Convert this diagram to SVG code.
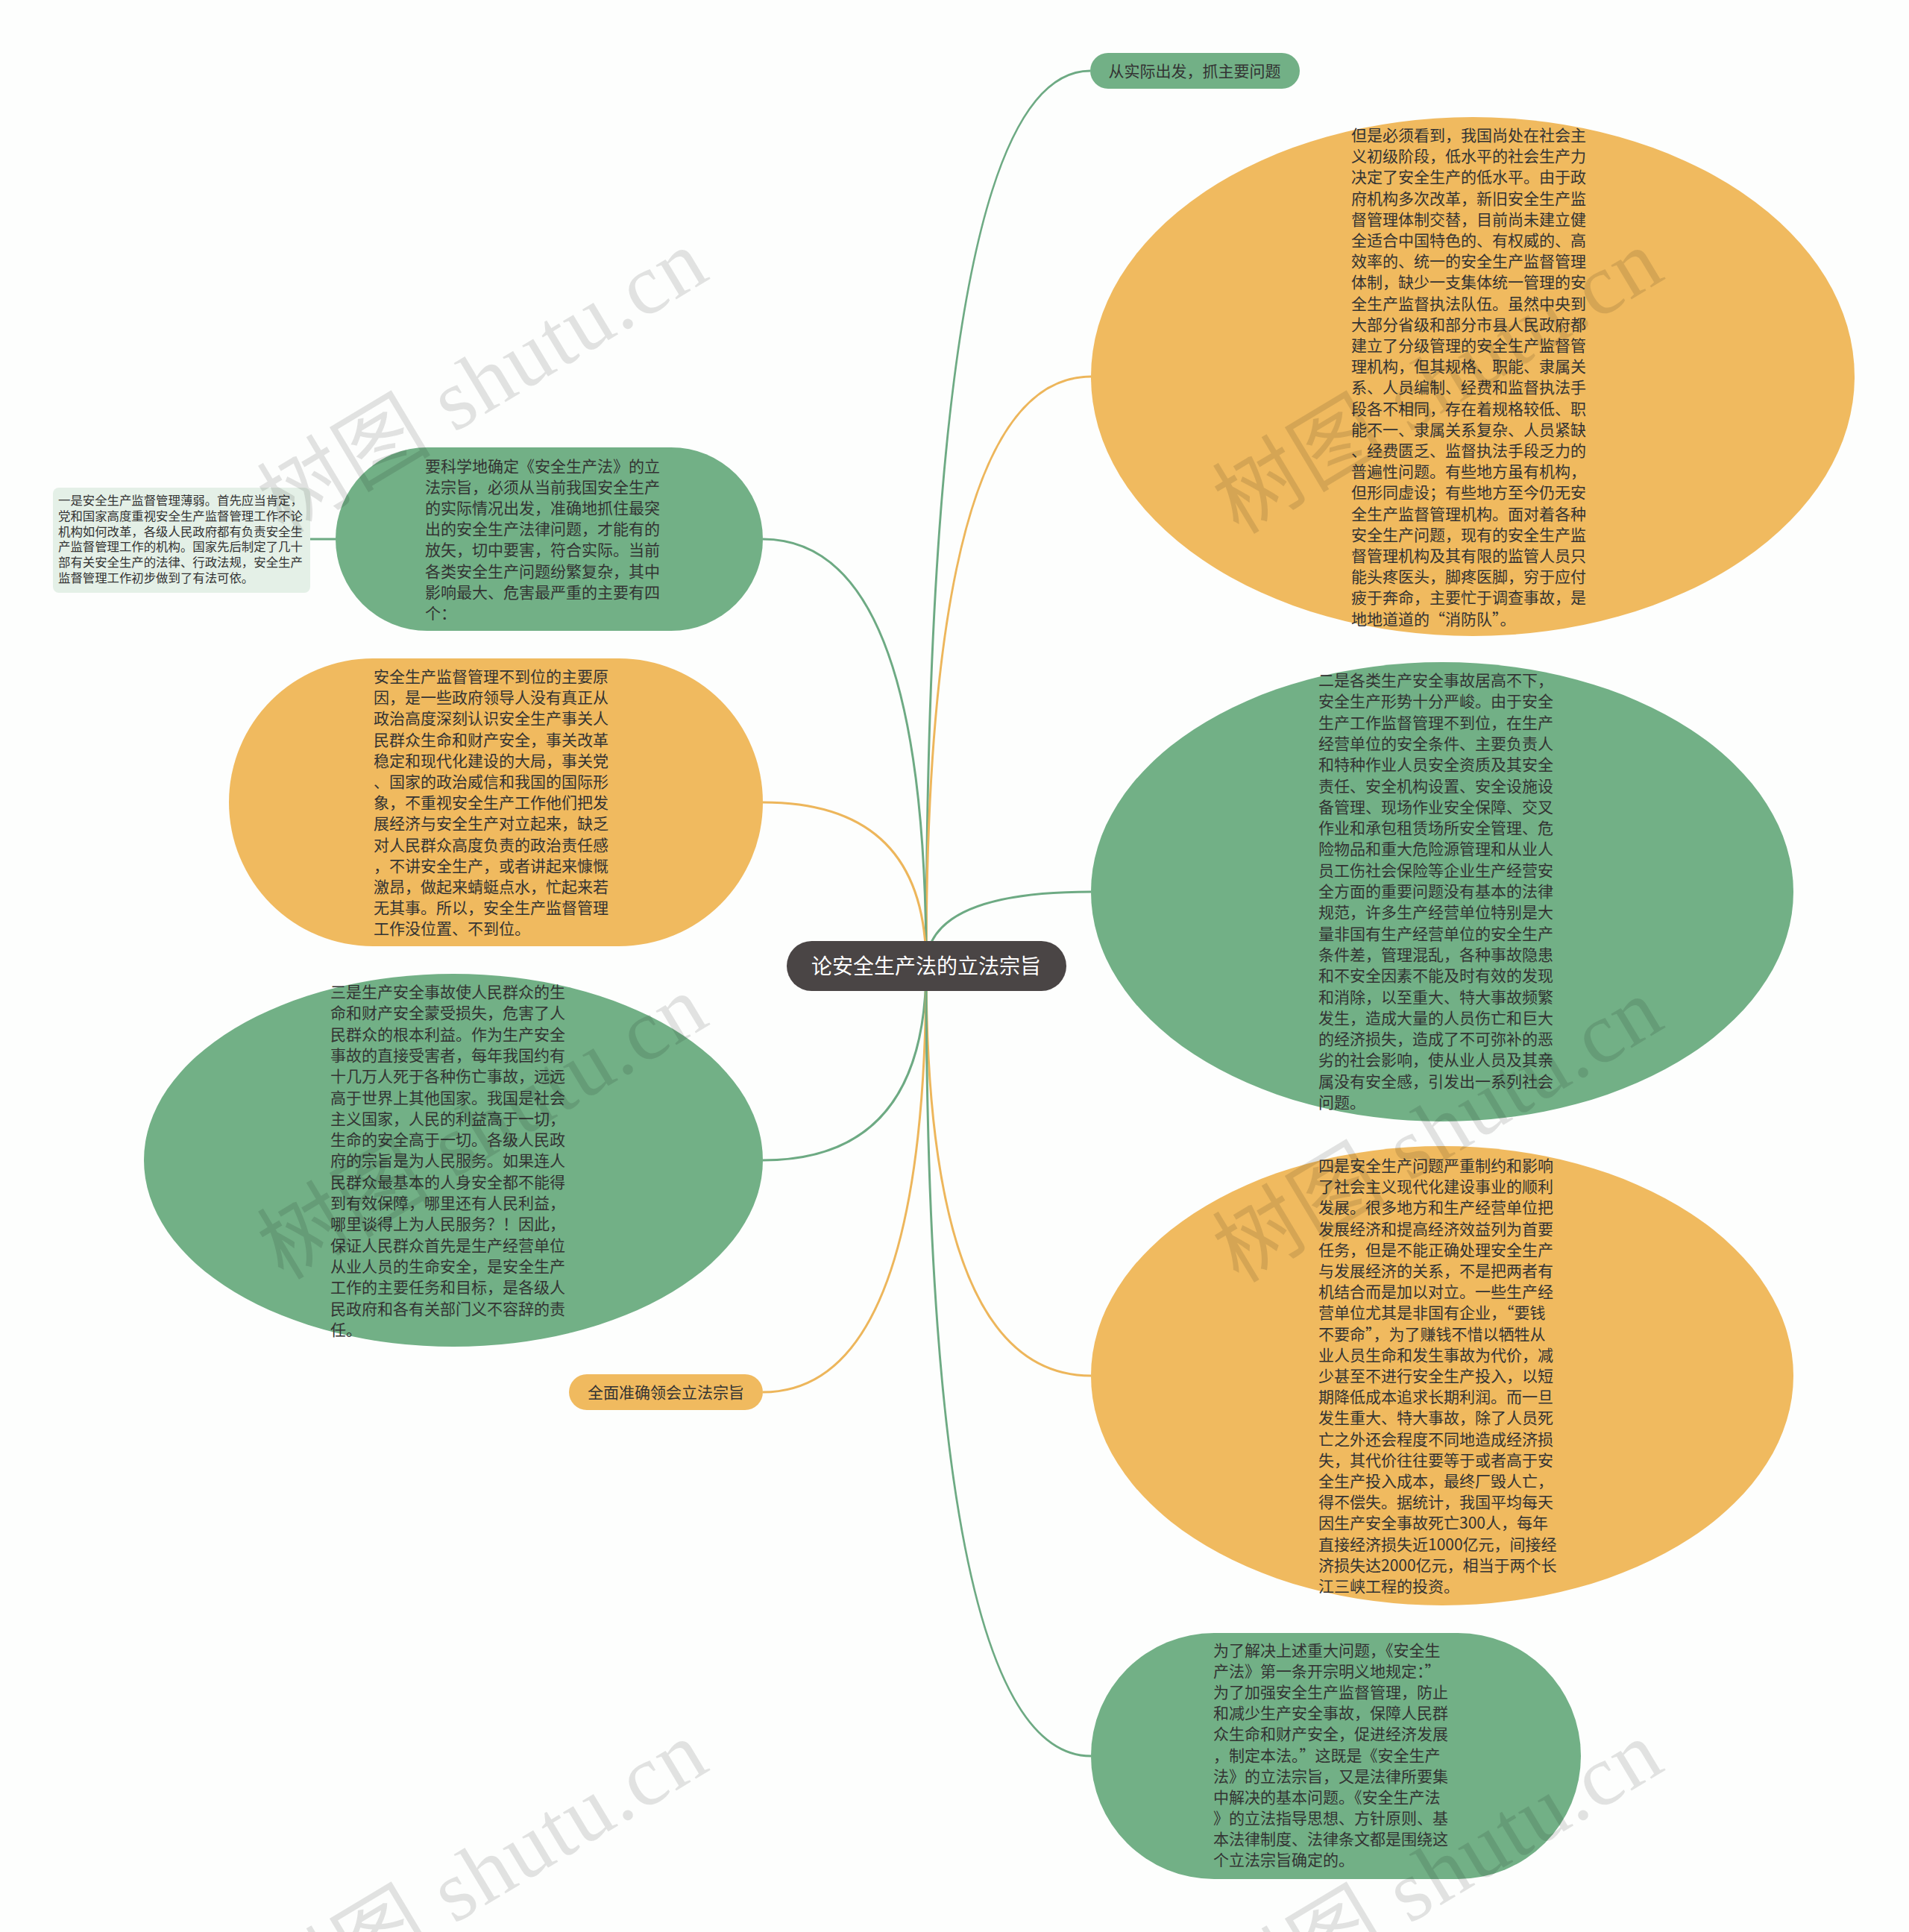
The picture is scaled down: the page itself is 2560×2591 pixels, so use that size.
<svg xmlns="http://www.w3.org/2000/svg" width="2560" height="2591" viewBox="0 0 2560 2591">
<style>
.t{font-family:"Noto Sans CJK SC","Noto Sans",sans-serif;font-size:21px;fill:#333}
.s{font-family:"Noto Sans CJK SC","Noto Sans",sans-serif;font-size:16.4px;fill:#333}
.rt{font-family:"Noto Sans CJK SC","Noto Sans",sans-serif;font-size:28px;fill:#fff}
.gf{fill:#72B086}
.of{fill:#F0BA5F}
.gl{fill:none;stroke:#6DAA83;stroke-width:3}
.ol{fill:none;stroke:#EDB65B;stroke-width:3}
.wm{font-family:"Liberation Serif","Noto Sans CJK SC",serif;font-size:116px;fill:#000;fill-opacity:0.11}
</style>
<rect width="2560" height="2591" fill="#FDFEFD"/>
<g id="connectors">
<path class="gl" d="M1242 1296 Q1242 95 1462 95"/>
<path class="ol" d="M1242 1296 Q1242 505 1463 505"/>
<path class="gl" d="M1242 1296 Q1242 723 1023 723"/>
<path class="ol" d="M1242 1296 Q1242 1076 1023 1076"/>
<path class="gl" d="M1242 1296 Q1242 1196 1463 1196"/>
<path class="gl" d="M1242 1296 Q1242 1556 1023 1556"/>
<path class="ol" d="M1242 1296 Q1242 1845 1463 1845"/>
<path class="ol" d="M1242 1296 Q1242 1867 1023 1867"/>
<path class="gl" d="M1242 1296 Q1242 2355 1463 2355"/>
<path class="gl" d="M416 723 L450 723"/>
</g>
<g id="root">
<rect x="1055" y="1262" width="375" height="67" rx="33.5" fill="#4A4545"/>
<text class="rt" x="1242" y="1306" text-anchor="middle">论安全生产法的立法宗旨</text>
</g>
<g id="n1">
<rect class="gf" x="1462" y="71" width="281" height="48" rx="24"/>
<text class="t" x="1602" y="103" text-anchor="middle">从实际出发，抓主要问题</text>
</g>
<g id="n2">
<ellipse class="of" cx="1975" cy="505" rx="512" ry="348"/>
<text class="t">
<tspan x="1812" y="189">但是必须看到，我国尚处在社会主</tspan>
<tspan x="1812" y="217.2">义初级阶段，低水平的社会生产力</tspan>
<tspan x="1812" y="245.4">决定了安全生产的低水平。由于政</tspan>
<tspan x="1812" y="273.6">府机构多次改革，新旧安全生产监</tspan>
<tspan x="1812" y="301.8">督管理体制交替，目前尚未建立健</tspan>
<tspan x="1812" y="330">全适合中国特色的、有权威的、高</tspan>
<tspan x="1812" y="358.2">效率的、统一的安全生产监督管理</tspan>
<tspan x="1812" y="386.4">体制，缺少一支集体统一管理的安</tspan>
<tspan x="1812" y="414.6">全生产监督执法队伍。虽然中央到</tspan>
<tspan x="1812" y="442.8">大部分省级和部分市县人民政府都</tspan>
<tspan x="1812" y="471">建立了分级管理的安全生产监督管</tspan>
<tspan x="1812" y="499.2">理机构，但其规格、职能、隶属关</tspan>
<tspan x="1812" y="527.4">系、人员编制、经费和监督执法手</tspan>
<tspan x="1812" y="555.6">段各不相同，存在着规格较低、职</tspan>
<tspan x="1812" y="583.8">能不一、隶属关系复杂、人员紧缺</tspan>
<tspan x="1812" y="612">、经费匮乏、监督执法手段乏力的</tspan>
<tspan x="1812" y="640.2">普遍性问题。有些地方虽有机构，</tspan>
<tspan x="1812" y="668.4">但形同虚设；有些地方至今仍无安</tspan>
<tspan x="1812" y="696.6">全生产监督管理机构。面对着各种</tspan>
<tspan x="1812" y="724.8">安全生产问题，现有的安全生产监</tspan>
<tspan x="1812" y="753">督管理机构及其有限的监管人员只</tspan>
<tspan x="1812" y="781.2">能头疼医头，脚疼医脚，穷于应付</tspan>
<tspan x="1812" y="809.4">疲于奔命，主要忙于调查事故，是</tspan>
<tspan x="1812" y="837.6">地地道道的“消防队”。</tspan>
</text>
</g>
<g id="n3">
<rect class="gf" x="450" y="600" width="573" height="246" rx="123"/>
<text class="t">
<tspan x="570" y="633">要科学地确定《安全生产法》的立</tspan>
<tspan x="570" y="661.1">法宗旨，必须从当前我国安全生产</tspan>
<tspan x="570" y="689.2">的实际情况出发，准确地抓住最突</tspan>
<tspan x="570" y="717.3">出的安全生产法律问题，才能有的</tspan>
<tspan x="570" y="745.4">放矢，切中要害，符合实际。当前</tspan>
<tspan x="570" y="773.5">各类安全生产问题纷繁复杂，其中</tspan>
<tspan x="570" y="801.6">影响最大、危害最严重的主要有四</tspan>
<tspan x="570" y="829.7">个：</tspan>
</text>
</g>
<g id="n3a">
<rect x="71" y="654" width="345" height="141" rx="8" fill="#E4F0E7"/>
<text class="s">
<tspan x="78" y="677">一是安全生产监督管理薄弱。首先应当肯定，</tspan>
<tspan x="78" y="697.8">党和国家高度重视安全生产监督管理工作不论</tspan>
<tspan x="78" y="718.6">机构如何改革，各级人民政府都有负责安全生</tspan>
<tspan x="78" y="739.4">产监督管理工作的机构。国家先后制定了几十</tspan>
<tspan x="78" y="760.2">部有关安全生产的法律、行政法规，安全生产</tspan>
<tspan x="78" y="781">监督管理工作初步做到了有法可依。</tspan>
</text>
</g>
<g id="n4">
<rect class="of" x="307" y="883" width="716" height="386" rx="193"/>
<text class="t">
<tspan x="501" y="915">安全生产监督管理不到位的主要原</tspan>
<tspan x="501" y="943.2">因，是一些政府领导人没有真正从</tspan>
<tspan x="501" y="971.4">政治高度深刻认识安全生产事关人</tspan>
<tspan x="501" y="999.6">民群众生命和财产安全，事关改革</tspan>
<tspan x="501" y="1027.8">稳定和现代化建设的大局，事关党</tspan>
<tspan x="501" y="1056">、国家的政治威信和我国的国际形</tspan>
<tspan x="501" y="1084.2">象，不重视安全生产工作他们把发</tspan>
<tspan x="501" y="1112.4">展经济与安全生产对立起来，缺乏</tspan>
<tspan x="501" y="1140.6">对人民群众高度负责的政治责任感</tspan>
<tspan x="501" y="1168.8">，不讲安全生产，或者讲起来慷慨</tspan>
<tspan x="501" y="1197">激昂，做起来蜻蜓点水，忙起来若</tspan>
<tspan x="501" y="1225.2">无其事。所以，安全生产监督管理</tspan>
<tspan x="501" y="1253.4">工作没位置、不到位。</tspan>
</text>
</g>
<g id="n5">
<ellipse class="gf" cx="1934" cy="1196" rx="471" ry="308"/>
<text class="t">
<tspan x="1768" y="920">二是各类生产安全事故居高不下，</tspan>
<tspan x="1768" y="948.3">安全生产形势十分严峻。由于安全</tspan>
<tspan x="1768" y="976.6">生产工作监督管理不到位，在生产</tspan>
<tspan x="1768" y="1004.9">经营单位的安全条件、主要负责人</tspan>
<tspan x="1768" y="1033.2">和特种作业人员安全资质及其安全</tspan>
<tspan x="1768" y="1061.5">责任、安全机构设置、安全设施设</tspan>
<tspan x="1768" y="1089.8">备管理、现场作业安全保障、交叉</tspan>
<tspan x="1768" y="1118.1">作业和承包租赁场所安全管理、危</tspan>
<tspan x="1768" y="1146.4">险物品和重大危险源管理和从业人</tspan>
<tspan x="1768" y="1174.7">员工伤社会保险等企业生产经营安</tspan>
<tspan x="1768" y="1203">全方面的重要问题没有基本的法律</tspan>
<tspan x="1768" y="1231.3">规范，许多生产经营单位特别是大</tspan>
<tspan x="1768" y="1259.6">量非国有生产经营单位的安全生产</tspan>
<tspan x="1768" y="1287.9">条件差，管理混乱，各种事故隐患</tspan>
<tspan x="1768" y="1316.2">和不安全因素不能及时有效的发现</tspan>
<tspan x="1768" y="1344.5">和消除，以至重大、特大事故频繁</tspan>
<tspan x="1768" y="1372.8">发生，造成大量的人员伤亡和巨大</tspan>
<tspan x="1768" y="1401.1">的经济损失，造成了不可弥补的恶</tspan>
<tspan x="1768" y="1429.4">劣的社会影响，使从业人员及其亲</tspan>
<tspan x="1768" y="1457.7">属没有安全感，引发出一系列社会</tspan>
<tspan x="1768" y="1486">问题。</tspan>
</text>
</g>
<g id="n6">
<ellipse class="gf" cx="608" cy="1556" rx="415" ry="250"/>
<text class="t">
<tspan x="443" y="1338">三是生产安全事故使人民群众的生</tspan>
<tspan x="443" y="1366.3">命和财产安全蒙受损失，危害了人</tspan>
<tspan x="443" y="1394.6">民群众的根本利益。作为生产安全</tspan>
<tspan x="443" y="1422.9">事故的直接受害者，每年我国约有</tspan>
<tspan x="443" y="1451.2">十几万人死于各种伤亡事故，远远</tspan>
<tspan x="443" y="1479.5">高于世界上其他国家。我国是社会</tspan>
<tspan x="443" y="1507.8">主义国家，人民的利益高于一切，</tspan>
<tspan x="443" y="1536.1">生命的安全高于一切。各级人民政</tspan>
<tspan x="443" y="1564.4">府的宗旨是为人民服务。如果连人</tspan>
<tspan x="443" y="1592.7">民群众最基本的人身安全都不能得</tspan>
<tspan x="443" y="1621">到有效保障，哪里还有人民利益，</tspan>
<tspan x="443" y="1649.3">哪里谈得上为人民服务？！因此，</tspan>
<tspan x="443" y="1677.6">保证人民群众首先是生产经营单位</tspan>
<tspan x="443" y="1705.9">从业人员的生命安全，是安全生产</tspan>
<tspan x="443" y="1734.2">工作的主要任务和目标，是各级人</tspan>
<tspan x="443" y="1762.5">民政府和各有关部门义不容辞的责</tspan>
<tspan x="443" y="1790.8">任。</tspan>
</text>
</g>
<g id="n7">
<ellipse class="of" cx="1934" cy="1845" rx="471" ry="308"/>
<text class="t">
<tspan x="1768" y="1571">四是安全生产问题严重制约和影响</tspan>
<tspan x="1768" y="1599.2">了社会主义现代化建设事业的顺利</tspan>
<tspan x="1768" y="1627.4">发展。很多地方和生产经营单位把</tspan>
<tspan x="1768" y="1655.6">发展经济和提高经济效益列为首要</tspan>
<tspan x="1768" y="1683.8">任务，但是不能正确处理安全生产</tspan>
<tspan x="1768" y="1712">与发展经济的关系，不是把两者有</tspan>
<tspan x="1768" y="1740.2">机结合而是加以对立。一些生产经</tspan>
<tspan x="1768" y="1768.4">营单位尤其是非国有企业，“要钱</tspan>
<tspan x="1768" y="1796.6">不要命”，为了赚钱不惜以牺牲从</tspan>
<tspan x="1768" y="1824.8">业人员生命和发生事故为代价，减</tspan>
<tspan x="1768" y="1853">少甚至不进行安全生产投入，以短</tspan>
<tspan x="1768" y="1881.2">期降低成本追求长期利润。而一旦</tspan>
<tspan x="1768" y="1909.4">发生重大、特大事故，除了人员死</tspan>
<tspan x="1768" y="1937.6">亡之外还会程度不同地造成经济损</tspan>
<tspan x="1768" y="1965.8">失，其代价往往要等于或者高于安</tspan>
<tspan x="1768" y="1994">全生产投入成本，最终厂毁人亡，</tspan>
<tspan x="1768" y="2022.2">得不偿失。据统计，我国平均每天</tspan>
<tspan x="1768" y="2050.4">因生产安全事故死亡300人，每年</tspan>
<tspan x="1768" y="2078.6">直接经济损失近1000亿元，间接经</tspan>
<tspan x="1768" y="2106.8">济损失达2000亿元，相当于两个长</tspan>
<tspan x="1768" y="2135">江三峡工程的投资。</tspan>
</text>
</g>
<g id="n8">
<rect class="of" x="763" y="1843" width="260" height="48" rx="24"/>
<text class="t" x="893" y="1875" text-anchor="middle">全面准确领会立法宗旨</text>
</g>
<g id="n9">
<rect class="gf" x="1463" y="2190" width="657" height="330" rx="165"/>
<text class="t">
<tspan x="1627" y="2221">为了解决上述重大问题，《安全生</tspan>
<tspan x="1627" y="2249.1">产法》第一条开宗明义地规定：”</tspan>
<tspan x="1627" y="2277.2">为了加强安全生产监督管理，防止</tspan>
<tspan x="1627" y="2305.3">和减少生产安全事故，保障人民群</tspan>
<tspan x="1627" y="2333.4">众生命和财产安全，促进经济发展</tspan>
<tspan x="1627" y="2361.5">，制定本法。”这既是《安全生产</tspan>
<tspan x="1627" y="2389.6">法》的立法宗旨，又是法律所要集</tspan>
<tspan x="1627" y="2417.7">中解决的基本问题。《安全生产法</tspan>
<tspan x="1627" y="2445.8">》的立法指导思想、方针原则、基</tspan>
<tspan x="1627" y="2473.9">本法律制度、法律条文都是围绕这</tspan>
<tspan x="1627" y="2502">个立法宗旨确定的。</tspan>
</text>
</g>
<g id="watermarks">
<text class="wm" x="380" y="718" transform="rotate(-31 380 718)" textLength="670">树图 shutu.cn</text>
<text class="wm" x="1661" y="718" transform="rotate(-31 1661 718)" textLength="670">树图 shutu.cn</text>
<text class="wm" x="380" y="1718" transform="rotate(-31 380 1718)" textLength="670">树图 shutu.cn</text>
<text class="wm" x="1661" y="1722" transform="rotate(-31 1661 1722)" textLength="670">树图 shutu.cn</text>
<text class="wm" x="380" y="2718" transform="rotate(-31 380 2718)" textLength="670">树图 shutu.cn</text>
<text class="wm" x="1661" y="2718" transform="rotate(-31 1661 2718)" textLength="670">树图 shutu.cn</text>
</g>
</svg>
